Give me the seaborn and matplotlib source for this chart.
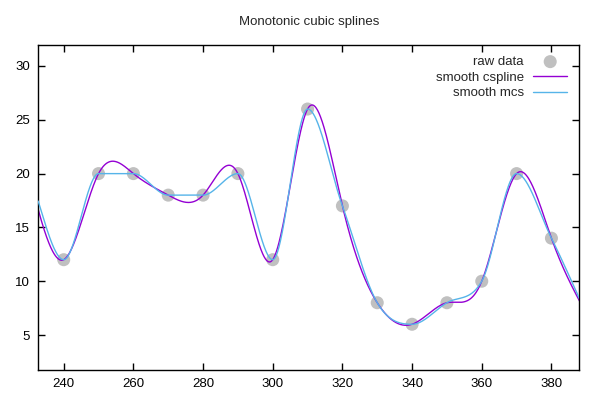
import numpy as np
import pandas as pd
import matplotlib
matplotlib.use("Agg")
import matplotlib.pyplot as plt
import seaborn as sns

# ==================== Data ==================== #
# raw points (230 and 390 lie just outside the visible range)
x_raw = [230, 240, 250, 260, 270, 280, 290, 300, 310, 320, 330, 340, 350, 360, 370, 380, 390]
y_raw = [20, 12, 20, 20, 18, 18, 20, 12, 26, 17, 8, 6, 8, 10, 20, 14, 7]

x_lim = (232.7, 388.0)
y_lim = (1.75, 31.95)
x_ticks = [240, 260, 280, 300, 320, 340, 360, 380]
y_ticks = [5, 10, 15, 20, 25, 30]

col_points = "#c0c0c0"
col_cspline = "#9400d3"
col_mcs = "#56b4e9"


# ==================== Helper methods ==================== #
def natural_cspline(x, y, xs):
    """natural cubic spline, like gnuplot 'smooth csplines'"""
    x = np.asarray(x, float)
    y = np.asarray(y, float)
    n = len(x)
    h = np.diff(x)
    A = np.zeros((n, n))
    b = np.zeros(n)
    A[0, 0] = 1
    A[-1, -1] = 1
    for i in range(1, n - 1):
        A[i, i - 1] = h[i - 1]
        A[i, i] = 2 * (h[i - 1] + h[i])
        A[i, i + 1] = h[i]
        b[i] = 6 * ((y[i + 1] - y[i]) / h[i] - (y[i] - y[i - 1]) / h[i - 1])
    M = np.linalg.solve(A, b)
    k = np.clip(np.searchsorted(x, xs) - 1, 0, n - 2)
    dx = xs - x[k]
    hk = h[k]
    a = y[k]
    bb = (y[k + 1] - y[k]) / hk - hk * (2 * M[k] + M[k + 1]) / 6
    c = M[k] / 2
    d = (M[k + 1] - M[k]) / (6 * hk)
    return a + bb * dx + c * dx ** 2 + d * dx ** 3


def mcs_spline(x, y, xs):
    """Fritsch-Carlson monotonic cubic spline, like gnuplot 'smooth mcs'"""
    x = np.asarray(x, float)
    y = np.asarray(y, float)
    n = len(x)
    h = np.diff(x)
    delta = np.diff(y) / h
    m = np.zeros(n)
    m[0] = delta[0]
    m[-1] = delta[-1]
    for i in range(1, n - 1):
        if delta[i - 1] * delta[i] <= 0:
            m[i] = 0
        else:
            m[i] = (delta[i - 1] + delta[i]) / 2
    for i in range(n - 1):
        if delta[i] == 0:
            m[i] = 0
            m[i + 1] = 0
            continue
        alpha = m[i] / delta[i]
        beta = m[i + 1] / delta[i]
        s = alpha ** 2 + beta ** 2
        if s > 9:
            tau = 3 / np.sqrt(s)
            m[i] = tau * alpha * delta[i]
            m[i + 1] = tau * beta * delta[i]
    k = np.clip(np.searchsorted(x, xs) - 1, 0, n - 2)
    t = (xs - x[k]) / h[k]
    h00 = 2 * t ** 3 - 3 * t ** 2 + 1
    h10 = t ** 3 - 2 * t ** 2 + t
    h01 = -2 * t ** 3 + 3 * t ** 2
    h11 = t ** 3 - t ** 2
    return h00 * y[k] + h10 * h[k] * m[k] + h01 * y[k + 1] + h11 * h[k] * m[k + 1]


# ==================== Plot ==================== #
sns.set_style("ticks")
plt.rcParams["font.family"] = ["Liberation Sans", "DejaVu Sans"]

xs = np.linspace(x_raw[0], x_raw[-1], 1200)
raw = pd.DataFrame({"x": x_raw, "y": y_raw})
curves = pd.DataFrame({"x": xs,
                       "cs": natural_cspline(x_raw, y_raw, xs),
                       "mcs": mcs_spline(x_raw, y_raw, xs)})

fig = plt.figure(figsize=(6, 4), dpi=100)
ax = fig.add_axes([0.0638, 0.075, 0.9017, 0.8125])

sns.scatterplot(data=raw, x="x", y="y", ax=ax, color=col_points, s=88,
                edgecolor="none", label="raw data", zorder=1)
sns.lineplot(data=curves, x="x", y="cs", ax=ax, color=col_cspline, lw=1.0,
             label="smooth cspline", zorder=2)
sns.lineplot(data=curves, x="x", y="mcs", ax=ax, color=col_mcs, lw=1.0,
             label="smooth mcs", zorder=3)

ax.set_xlim(*x_lim)
ax.set_ylim(*y_lim)
ax.set_xticks(x_ticks)
ax.set_yticks(y_ticks)
ax.set_xlabel("")
ax.set_ylabel("")
ax.tick_params(direction="in", length=5, width=1, top=True, right=True,
               labelsize=9.5, pad=6, colors="black")
for sp in ax.spines.values():
    sp.set_visible(True)
    sp.set_linewidth(1.0)
    sp.set_color("black")

fig.text(0.5147, 1 - 21.7 / 400, "Monotonic cubic splines", ha="center",
         va="center", fontsize=9.5)

ax.legend(loc="upper right", frameon=False, markerfirst=False, fontsize=9.5,
          handlelength=2.6, handletextpad=0.7, labelspacing=0.25,
          borderaxespad=0.3, bbox_to_anchor=(0.995, 0.995))

fig.savefig("out.png", dpi=100)
